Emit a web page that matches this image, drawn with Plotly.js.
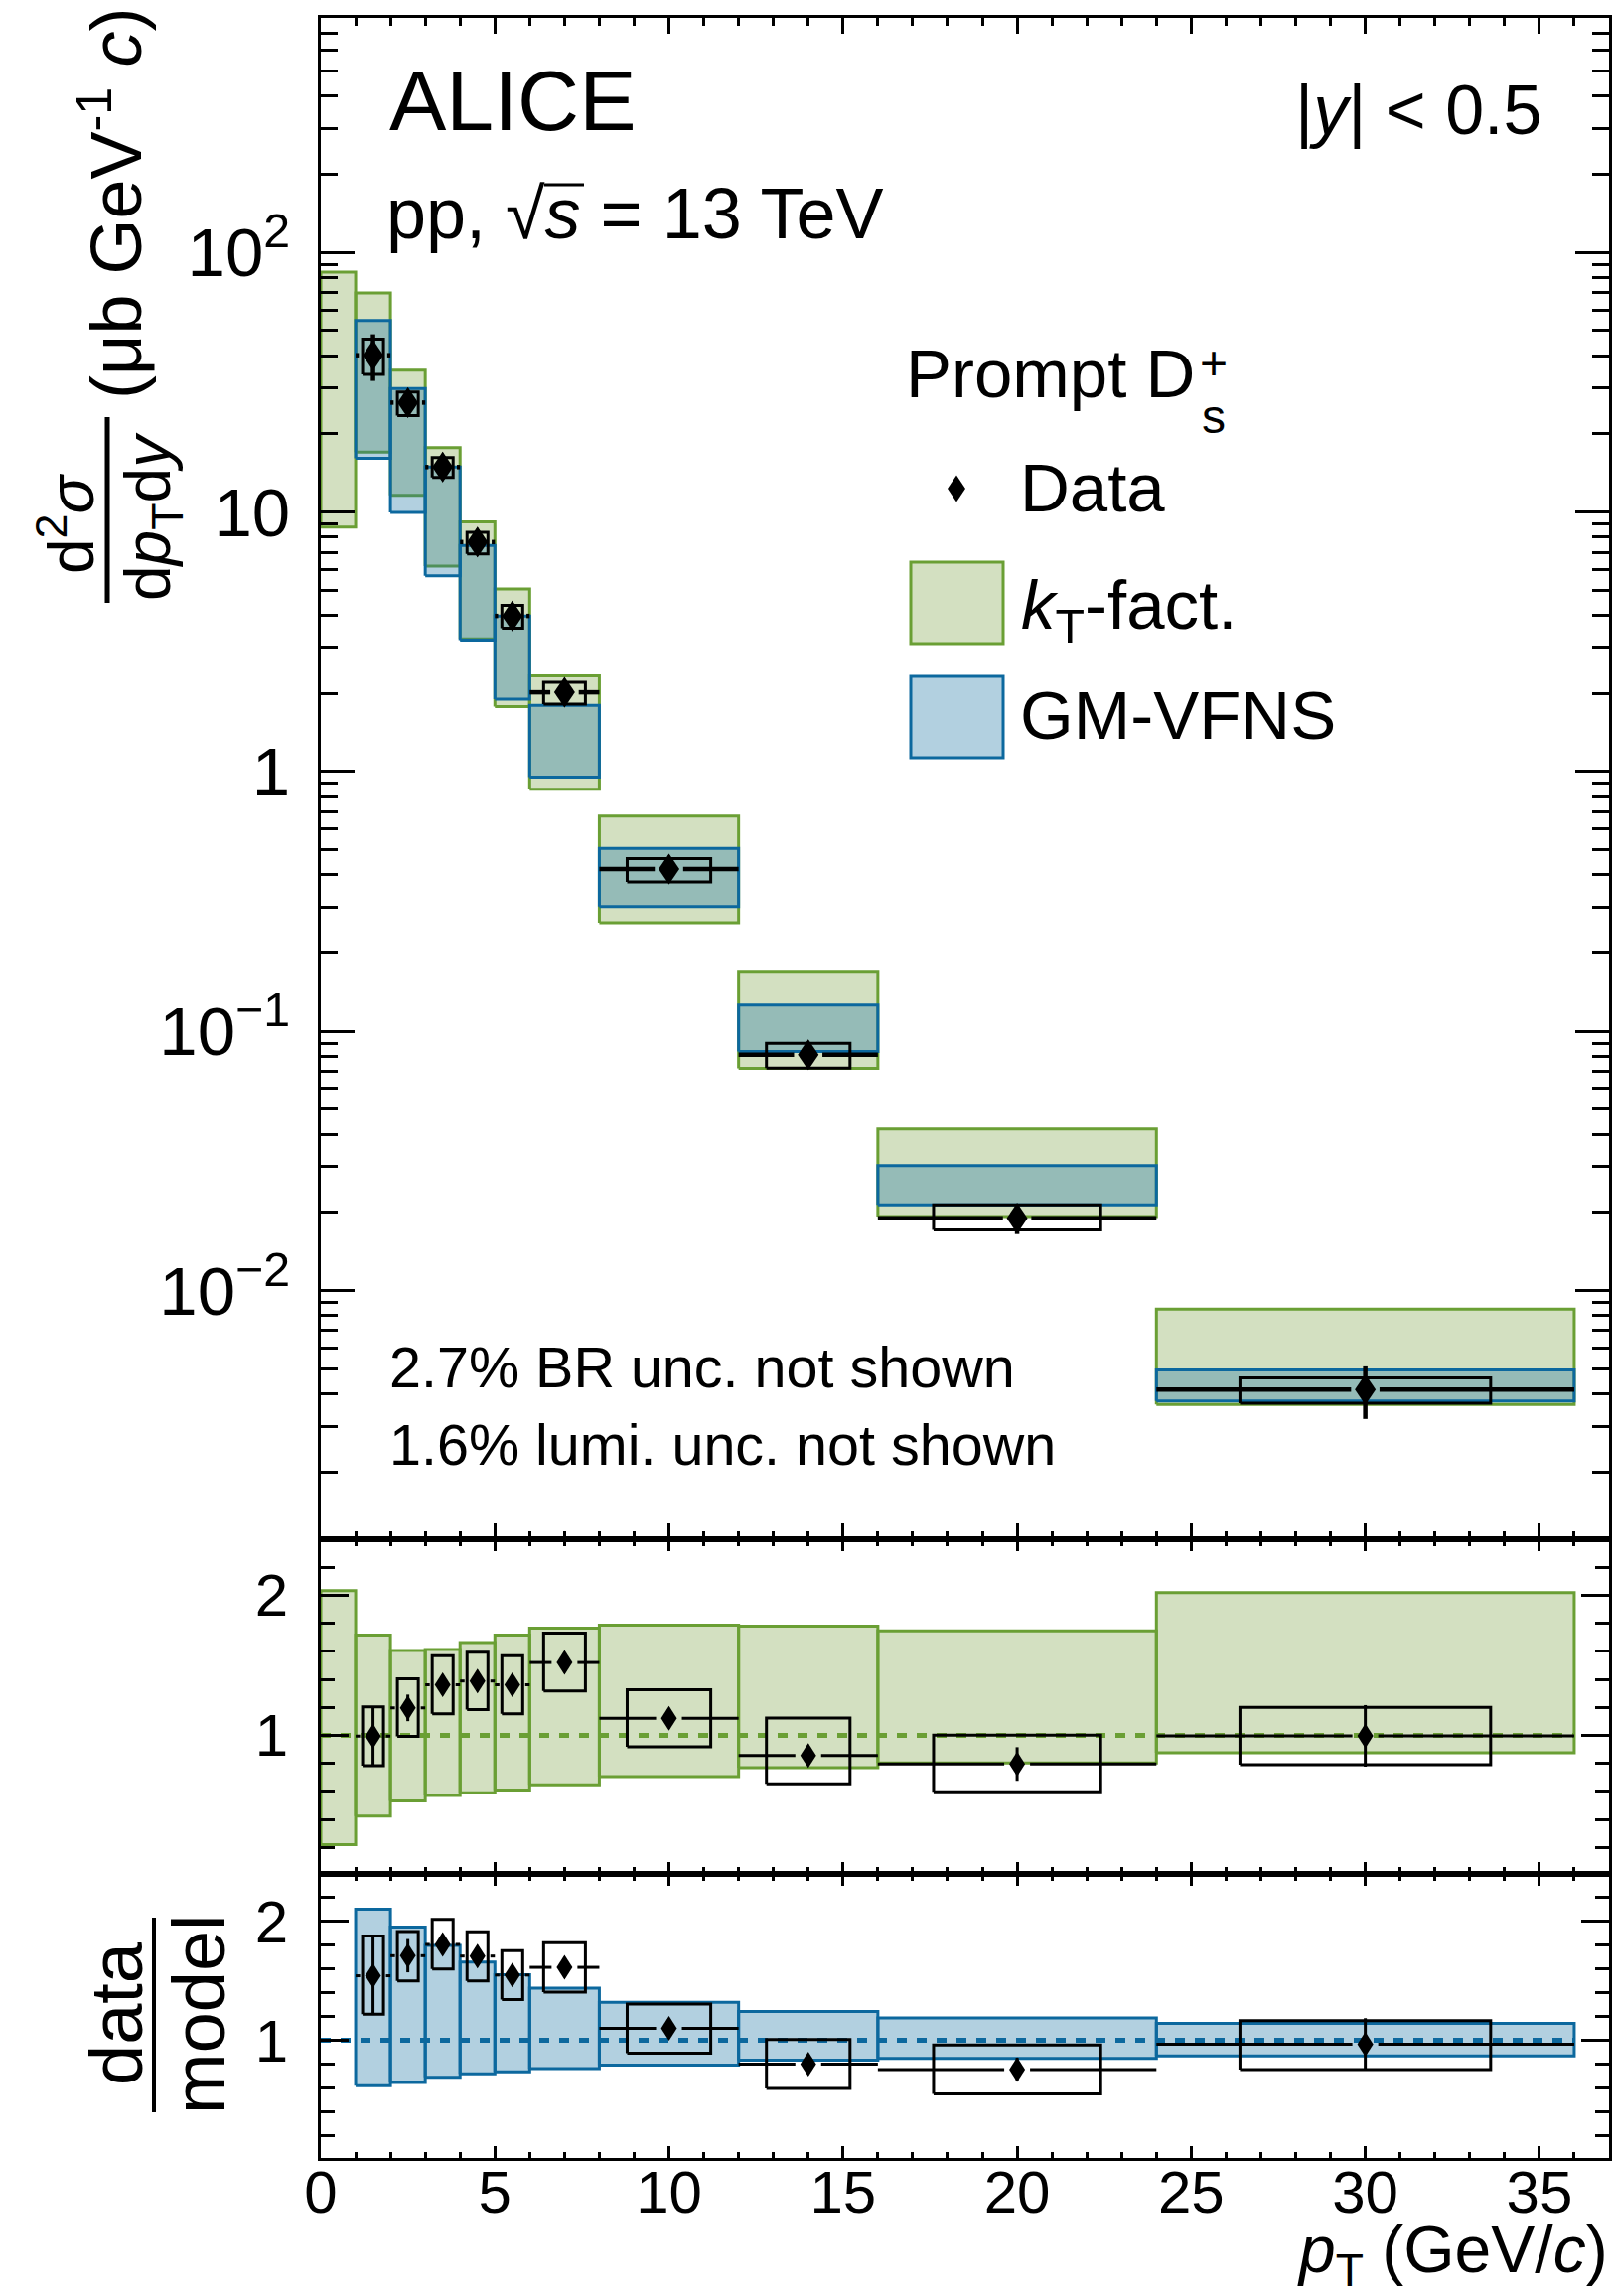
<!DOCTYPE html>
<html><head><meta charset="utf-8">
<script src="https://cdn.plot.ly/plotly-3.0.1.min.js"></script>
<style>html,body{margin:0;padding:0;background:#fff}</style>
</head><body><div id="chart" style="width:1623px;height:2312px"></div>
<script>
// ---------------- DATA ----------------
// model pT bins (GeV/c)
const binLo = [0, 1, 2, 3, 4, 5, 6, 8, 12, 16, 24];
const binHi = [1, 2, 3, 4, 5, 6, 8, 12, 16, 24, 36];
// kT-factorisation band, cross section (mub GeV^-1 c)
const ktLo = [8.75, 17.0, 11.6, 6.19, 3.25, 1.78, 0.854, 0.2615, 0.0720, 0.0193, 0.00364];
const ktHi = [84.1, 69.8, 35.2, 17.7, 9.17, 5.05, 2.34, 0.673, 0.1688, 0.042, 0.00847];
// GM-VFNS band (no prediction in first bin)
const gmLo = [null, 16.1, 9.96, 5.68, 3.21, 1.90, 0.952, 0.302, 0.0837, 0.0214, 0.00375];
const gmHi = [null, 54.7, 29.9, 14.9, 7.43, 3.98, 1.80, 0.506, 0.1262, 0.0303, 0.00494];
// measured prompt Ds+ cross section
const dataPt    = [1.5, 2.5, 3.5, 4.5, 5.5, 7, 10, 14, 20, 30];
const dataHalfW = [0.5, 0.5, 0.5, 0.5, 0.5, 1, 2, 2, 4, 6];
const dataVal   = [40.2, 26.4, 14.9, 7.66, 3.98, 2.02, 0.421, 0.0812, 0.0190, 0.00415];
const dataStat  = [8.2, 2.1, 0.8, 0.4, 0.24, 0.09, 0.022, 0.005, 0.0025, 0.00095];
const dataSystLo = [33.9, 23.5, 13.6, 6.90, 3.57, 1.82, 0.376, 0.0721, 0.0171, 0.00368];
const dataSystHi = [46.4, 29.0, 16.2, 8.35, 4.37, 2.21, 0.462, 0.090, 0.0214, 0.00461];
// data / kT-fact.
const rKtVal    = [0.994, 1.196, 1.361, 1.388, 1.361, 1.52, 1.122, 0.856, 0.795, 0.996];
const rKtStat   = [0.21, 0.095, 0.05, 0.05, 0.05, 0.05, 0.05, 0.05, 0.12, 0.22];
const rKtSystLo = [0.783, 0.992, 1.153, 1.184, 1.153, 1.317, 0.918, 0.653, 0.597, 0.790];
const rKtSystHi = [1.203, 1.403, 1.568, 1.594, 1.568, 1.729, 1.326, 1.124, 1.001, 1.199];
const rKtBandLo = [0.219, 0.4225, 0.532, 0.57, 0.589, 0.610, 0.646, 0.705, 0.769, 0.802, 0.875];
const rKtBandHi = [2.033, 1.715, 1.606, 1.613, 1.663, 1.715, 1.765, 1.786, 1.779, 1.745, 2.019];
// data / GM-VFNS
const rGmVal    = [1.543, 1.712, 1.807, 1.709, 1.549, 1.614, 1.101, 0.799, 0.754, 0.966];
const rGmStat   = [0.33, 0.14, 0.07, 0.07, 0.07, 0.07, 0.05, 0.05, 0.10, 0.22];
const rGmSystLo = [1.219, 1.50, 1.60, 1.499, 1.343, 1.406, 0.892, 0.595, 0.549, 0.754];
const rGmSystHi = [1.877, 1.916, 2.017, 1.913, 1.754, 1.821, 1.306, 1.007, 0.960, 1.165];
const rGmBandLo = [null, 0.617, 0.646, 0.688, 0.718, 0.735, 0.763, 0.791, 0.833, 0.847, 0.869];
const rGmBandHi = [null, 2.103, 1.952, 1.798, 1.658, 1.552, 1.440, 1.320, 1.242, 1.188, 1.142];
// tick labels
const mainTickVals = [0.01, 0.1, 1, 10, 100];
const mainTickText = ['10<sup>\u22122</sup>', '10<sup>\u22121</sup>', '1', '10', '10<sup>2</sup>'];
const ratioTickVals = [1, 2];
const ratioTickText = ['1', '2'];

// ---------------- STYLE / GEOMETRY ----------------
const FONT = 'Liberation Sans, Arial, Helvetica, sans-serif';
const W = 1623, H = 2312;
const M = {l: 323, r: 3, t: 18, b: 139};
const plotW = W - M.l - M.r, plotH = H - M.t - M.b;
const yMainBot = 1550, yMidBot = 1887;
const domMain = [(H - M.b - yMainBot) / plotH, 1];
const domMid = [(H - M.b - yMidBot) / plotH, (H - M.b - yMainBot) / plotH];
const domBot = [0, (H - M.b - yMidBot) / plotH];
const xRange = [0, 37];
const pxPerX = plotW / (xRange[1] - xRange[0]);
const px = x => (x - M.l) / plotW;
const py = y => (H - M.b - y) / plotH;

const GREEN_LINE = 'rgb(106,159,52)', GREEN_FILL = 'rgb(211,224,193)';
const BLUE_LINE = 'rgb(12,104,158)', BLUE_FILL = 'rgba(28,117,164,0.34)', BLUE_FILL_SOLID = 'rgb(178,208,224)';
const boxFrac = 0.6;

function boxes(lo, hi, x0, x1) {
  const X = [], Y = [];
  for (let i = 0; i < lo.length; i++) {
    if (lo[i] == null) continue;
    X.push(x0[i], x1[i], x1[i], x0[i], x0[i], null);
    Y.push(lo[i], lo[i], hi[i], hi[i], lo[i], null);
  }
  return {X, Y};
}
function hbars(pt, hw, val, gapPx) {
  const g = gapPx / pxPerX, X = [], Y = [];
  for (let i = 0; i < pt.length; i++) {
    if (g < hw[i]) {
      X.push(pt[i] - hw[i], pt[i] - g, null, pt[i] + g, pt[i] + hw[i], null);
      Y.push(val[i], val[i], null, val[i], val[i], null);
    }
  }
  return {X, Y};
}
function vbars(pt, lo, hi) {
  const X = [], Y = [];
  for (let i = 0; i < pt.length; i++) { X.push(pt[i], pt[i], null); Y.push(lo[i], hi[i], null); }
  return {X, Y};
}
function lineTrace(o, xa, ya, color, width, extra) {
  return Object.assign({type: 'scatter', mode: 'lines', x: o.X, y: o.Y, xaxis: xa, yaxis: ya,
    line: {color: color, width: width}, hoverinfo: 'skip', showlegend: false, connectgaps: false}, extra || {});
}
function diamond(w, h) { return `M0,${h/2}L${w/2},0L0,${-h/2}L${-w/2},0Z`; }
function diamondShapes(xs, ys, xa, ya, w, h) {
  return xs.map((x, i) => ({type: 'path', xref: xa, yref: ya, xsizemode: 'pixel', ysizemode: 'pixel',
    xanchor: x, yanchor: ys[i], path: diamond(w, h), fillcolor: 'black', line: {width: 0}, layer: 'above'}));
}

const sysX0 = dataPt.map((p, i) => p - boxFrac * dataHalfW[i]);
const sysX1 = dataPt.map((p, i) => p + boxFrac * dataHalfW[i]);

const traces = [];
// ---- main panel
traces.push(lineTrace(boxes(ktLo, ktHi, binLo, binHi), 'x', 'y', GREEN_LINE, 3, {fill: 'toself', fillcolor: GREEN_FILL}));
traces.push(lineTrace(boxes(gmLo, gmHi, binLo, binHi), 'x', 'y', BLUE_LINE, 3, {fill: 'toself', fillcolor: BLUE_FILL}));
traces.push(lineTrace(boxes(dataSystLo, dataSystHi, sysX0, sysX1), 'x', 'y', 'black', 3));
traces.push(lineTrace(hbars(dataPt, dataHalfW, dataVal, 14.3), 'x', 'y', 'black', 4.5));
traces.push(lineTrace(vbars(dataPt, dataVal.map((v, i) => v - dataStat[i]), dataVal.map((v, i) => v + dataStat[i])), 'x', 'y', 'black', 4.5));
traces.push({type: 'scatter', mode: 'markers', x: dataPt, y: dataVal, xaxis: 'x', yaxis: 'y',
  marker: {symbol: 'diamond-tall', size: 22, color: 'black'}, hoverinfo: 'skip', showlegend: false});
// ---- data / kT panel
traces.push(lineTrace(boxes(rKtBandLo, rKtBandHi, binLo, binHi), 'x2', 'y2', GREEN_LINE, 3, {fill: 'toself', fillcolor: GREEN_FILL}));
traces.push(lineTrace({X: [binLo[0], binHi[binHi.length - 1]], Y: [1, 1]}, 'x2', 'y2', GREEN_LINE, 5, {line: {color: GREEN_LINE, width: 5, dash: '10px,10px'}}));
traces.push(lineTrace(boxes(rKtSystLo, rKtSystHi, sysX0, sysX1), 'x2', 'y2', 'black', 3));
traces.push(lineTrace(hbars(dataPt, dataHalfW, rKtVal, 13), 'x2', 'y2', 'black', 3));
traces.push(lineTrace(vbars(dataPt, rKtVal.map((v, i) => v - rKtStat[i]), rKtVal.map((v, i) => v + rKtStat[i])), 'x2', 'y2', 'black', 3));
traces.push({type: 'scatter', mode: 'markers', x: dataPt, y: rKtVal, xaxis: 'x2', yaxis: 'y2',
  marker: {symbol: 'diamond-tall', size: 17, color: 'black'}, hoverinfo: 'skip', showlegend: false});
// ---- data / GM-VFNS panel
traces.push(lineTrace(boxes(rGmBandLo, rGmBandHi, binLo, binHi), 'x3', 'y3', BLUE_LINE, 3, {fill: 'toself', fillcolor: BLUE_FILL_SOLID}));
traces.push(lineTrace({X: [binLo[0], binHi[binHi.length - 1]], Y: [1, 1]}, 'x3', 'y3', BLUE_LINE, 5, {line: {color: BLUE_LINE, width: 5, dash: '10px,10px'}}));
traces.push(lineTrace(boxes(rGmSystLo, rGmSystHi, sysX0, sysX1), 'x3', 'y3', 'black', 3));
traces.push(lineTrace(hbars(dataPt, dataHalfW, rGmVal, 13), 'x3', 'y3', 'black', 3));
traces.push(lineTrace(vbars(dataPt, rGmVal.map((v, i) => v - rGmStat[i]), rGmVal.map((v, i) => v + rGmStat[i])), 'x3', 'y3', 'black', 3));
traces.push({type: 'scatter', mode: 'markers', x: dataPt, y: rGmVal, xaxis: 'x3', yaxis: 'y3',
  marker: {symbol: 'diamond-tall', size: 17, color: 'black'}, hoverinfo: 'skip', showlegend: false});

// ---------------- AXES ----------------
const mainRange = [Math.log10(1.1e-3), Math.log10(8.02e2)];
const minorLog = [];
for (let d = -3; d <= 2; d++) for (let k = 2; k <= 9; k++) {
  const v = k * Math.pow(10, d), l = Math.log10(v);
  if (l > mainRange[0] && l < mainRange[1]) minorLog.push(v);
}
function xAxis(anchor, len, mlen, labels) {
  return {domain: [0, 1], anchor: anchor, range: xRange, showline: true, linewidth: 3, linecolor: 'black',
    mirror: 'ticks', ticks: 'inside', ticklen: len, tickwidth: 3, tickcolor: 'black', tickmode: 'linear', tick0: 0, dtick: 5,
    minor: {ticks: 'inside', dtick: 1, tick0: 0, ticklen: mlen, tickwidth: 3, tickcolor: 'black'},
    showgrid: false, zeroline: false, showticklabels: labels, tickfont: {family: FONT, size: 60, color: 'black'},
    ticklabelstandoff: -20, fixedrange: true};
}
function ratioY(anchor, dom) {
  return {domain: dom, anchor: anchor, range: [0.01, 2.4], showline: true, linewidth: 3, linecolor: 'black', mirror: 'ticks',
    ticks: 'inside', ticklen: 28, tickwidth: 3, tickcolor: 'black', tickmode: 'array', tickvals: ratioTickVals, ticktext: ratioTickText,
    minor: {ticks: 'inside', dtick: 0.2, tick0: 0, ticklen: 14, tickwidth: 3, tickcolor: 'black'},
    showgrid: false, zeroline: false, tickfont: {family: FONT, size: 60, color: 'black'}, ticklabelstandoff: 18, fixedrange: true};
}

// ---------------- TEXT ----------------
function ann(text, x, y, size, xanchor, extra) {
  return Object.assign({text: text, xref: 'paper', yref: 'paper', x: px(x), y: py(y), xanchor: xanchor || 'left', yanchor: 'middle',
    showarrow: false, borderpad: 0, font: {family: FONT, size: size, color: 'black'}}, extra || {});
}
const annotations = [
  ann('ALICE', 391, 101, 86),
  ann('pp, \u221A<i>s</i> = 13 TeV', 388, 215, 72),
  ann('|<i>y</i>| < 0.5', 1553, 111, 70, 'right'),
  ann('2.7% BR unc. not shown', 391, 1377, 57.5),
  ann('1.6% lumi. unc. not shown', 391, 1455, 57.5),
  ann('Prompt D', 911, 376, 69),
  ann('+', 1222, 365, 48, 'center'),
  ann('s', 1222, 420, 48, 'center'),
  ann('Data', 1026, 491, 69),
  ann('<i>k</i><sub>T</sub>-fact.', 1027, 614, 69),
  ann('GM-VFNS', 1026, 720, 69),
  // y-axis title main
  ann('d<sup>2</sup><i>\u03C3</i>', 67, 527, 64, 'center', {textangle: -90}),
  ann('d<i>p</i><sub>T</sub>d<i>y</i>', 153, 520, 64, 'center', {textangle: -90}),
  ann('(\u03BCb GeV<sup>-1</sup> <i>c</i>)', 111, 205, 72, 'center', {textangle: -90}),
  // ratio y title
  ann('data', 117, 2028, 74, 'center', {textangle: -90}),
  ann('model', 200, 2028, 74, 'center', {textangle: -90}),
  // x title
  ann('<i>p</i><sub>T</sub> (GeV/<i>c</i>)', 1620, 2270, 66, 'right'),
];

const shapes = [].concat(
  diamondShapes(dataPt, dataVal, 'x', 'y', 21, 31),
  diamondShapes(dataPt, rKtVal, 'x2', 'y2', 16, 25),
  diamondShapes(dataPt, rGmVal, 'x3', 'y3', 16, 25),
  [
    // legend swatches
    {type: 'rect', xref: 'paper', yref: 'paper', x0: px(917), x1: px(1010), y0: py(648), y1: py(566), fillcolor: GREEN_FILL, line: {color: GREEN_LINE, width: 3}, layer: 'above'},
    {type: 'rect', xref: 'paper', yref: 'paper', x0: px(917), x1: px(1010), y0: py(763), y1: py(681), fillcolor: BLUE_FILL_SOLID, line: {color: BLUE_LINE, width: 3}, layer: 'above'},
    {type: 'path', xref: 'paper', yref: 'paper', xsizemode: 'pixel', ysizemode: 'pixel', xanchor: px(963), yanchor: py(492), path: diamond(18, 27), fillcolor: 'black', line: {width: 0}, layer: 'above'},
    // fraction bars of axis titles
    {type: 'line', xref: 'paper', yref: 'paper', x0: px(108), x1: px(108), y0: py(420), y1: py(607), line: {color: 'black', width: 5}},
    {type: 'line', xref: 'paper', yref: 'paper', x0: px(155), x1: px(155), y0: py(1931), y1: py(2127), line: {color: 'black', width: 4}},
    // overline of sqrt(s)
    {type: 'line', xref: 'paper', yref: 'paper', x0: px(548), x1: px(588), y0: py(186), y1: py(186), line: {color: 'black', width: 3}},
  ]
);

const layout = {
  width: W, height: H, margin: M, paper_bgcolor: 'white', plot_bgcolor: 'rgba(0,0,0,0)', showlegend: false,
  font: {family: FONT, color: 'black'},
  xaxis: xAxis('y', 16, 8, false),
  xaxis2: xAxis('y2', 12, 7, false),
  xaxis3: xAxis('y3', 12, 6.5, true),
  yaxis: {domain: domMain, anchor: 'x', type: 'log', range: mainRange, showline: true, linewidth: 3, linecolor: 'black', mirror: 'ticks',
    ticks: 'inside', ticklen: 34, tickwidth: 3, tickcolor: 'black', tickmode: 'array', tickvals: mainTickVals, ticktext: mainTickText,
    minor: {ticks: 'inside', tickmode: 'array', tickvals: minorLog, ticklen: 17, tickwidth: 3, tickcolor: 'black'},
    showgrid: false, zeroline: false, tickfont: {family: FONT, size: 69, color: 'black'}, ticklabelstandoff: 14, fixedrange: true},
  yaxis2: ratioY('x2', domMid),
  yaxis3: ratioY('x3', domBot),
  annotations: annotations,
  shapes: shapes,
};
Plotly.newPlot('chart', traces, layout, {displayModeBar: false, staticPlot: true});
</script></body></html>
